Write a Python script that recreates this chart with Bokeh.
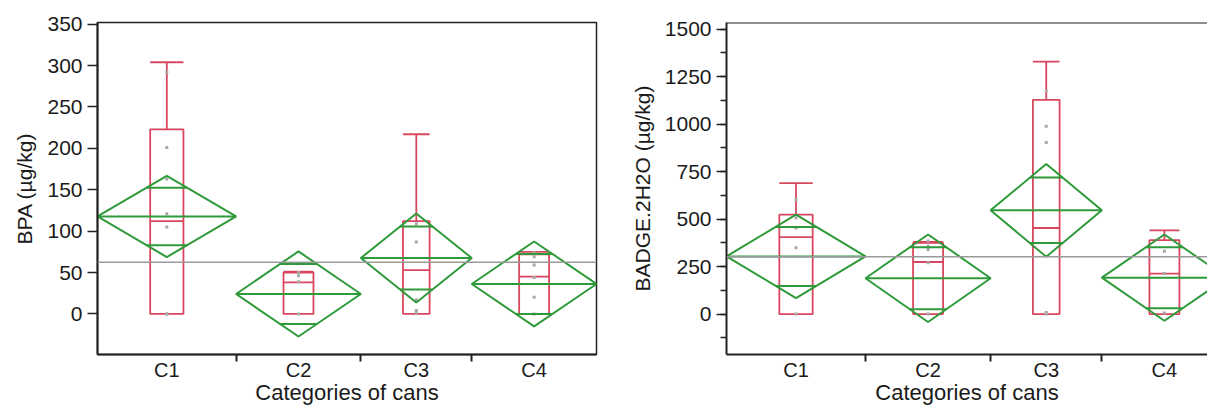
import math
from bokeh.plotting import figure
from bokeh.layouts import row
from bokeh.models import FixedTicker, SingleIntervalTicker, Span, CustomJSTickFormatter, Range1d
from bokeh.embed import file_html
from bokeh.resources import INLINE

# ---------------- data ----------------
categories = ["C1", "C2", "C3", "C4"]
group_sizes = [10, 9, 8, 9]          # x-width of each category (proportional to group size)

bpa_q1 = [0, 0, 0, 0]
bpa_median = [112, 38, 53, 45]
bpa_q3 = [223, 50, 112, 72]
bpa_whisker_lo = [0, 0, 0, 0]
bpa_whisker_hi = [304, 51, 217, 75]
bpa_mean = [117.7, 24.1, 67.5, 36.2]
bpa_ci_hi = [166.7, 75.5, 121.3, 87.5]
bpa_ci_lo = [68.7, -27.3, 13.7, -15.1]
bpa_points = [[292, 201, 163, 121, 105, 0, 0],
              [50, 46, 39, 0],
              [109, 87, 17, 4, 1],
              [74, 69, 59, 44, 20, 0]]
bpa_grand_mean = 62.5

badge_q1 = [0, 0, 0, 0]
badge_median = [405, 274, 453, 213]
badge_q3 = [523, 375, 1128, 389]
badge_whisker_lo = [0, 0, 0, 0]
badge_whisker_hi = [689, 380, 1329, 440]
badge_mean = [303.5, 188.4, 546, 191.6]
badge_ci_hi = [523, 418.7, 790, 418.7]
badge_ci_lo = [84, -41.9, 302, -35.5]
badge_points = [[602, 506, 453, 349, 0],
                [384, 357, 340, 270, 0],
                [1174, 989, 903, 8, 0],
                [331, 213, 5]]
badge_grand_mean = 302

RED = "#d9475f"
GREEN = "#2e9a3a"
GREY = "#9a9a9a"
PT = "#a8a8a8"
TXT = "#1a1a1a"
FONT = "Liberation Sans"

bounds = [0]
for n in group_sizes:
    bounds.append(bounds[-1] + n)
centers = [(bounds[i] + bounds[i + 1]) / 2 for i in range(len(group_sizes))]


def make_panel(ylabel, q1, med, q3, wlo, whi, mean, ci_hi, ci_lo, points, gm,
               y_start, y_end, ticker, x_end, width, bl, br, bt, bb, outline):
    p = figure(width=width, height=408, output_backend="svg", toolbar_location=None,
               x_range=Range1d(0, x_end), y_range=Range1d(y_start, y_end),
               min_border_left=bl, min_border_right=br, min_border_top=bt,
               min_border_bottom=bb)
    p.xgrid.visible = False
    p.ygrid.visible = False
    p.background_fill_color = "white"
    p.border_fill_color = "white"
    if outline:
        p.outline_line_color = "#222222"
        p.outline_line_width = 1.5
    else:
        p.outline_line_color = None
        p.add_layout(Span(location=y_end, dimension="width", line_color="#222222",
                          line_width=2))

    # grand mean
    p.add_layout(Span(location=gm, dimension="width", line_color=GREY, line_width=1.5))

    # box plots
    bw = [0.24 * n for n in group_sizes]
    left = [c - w / 2 for c, w in zip(centers, bw)]
    right = [c + w / 2 for c, w in zip(centers, bw)]
    p.quad(left=left, right=right, bottom=q1, top=q3, fill_color=None,
           line_color=RED, line_width=1.8)
    p.segment(x0=left, y0=med, x1=right, y1=med, line_color=RED, line_width=1.8)
    p.segment(x0=centers, y0=q3, x1=centers, y1=whi, line_color=RED, line_width=1.8)
    p.segment(x0=centers, y0=q1, x1=centers, y1=wlo, line_color=RED, line_width=1.8)
    p.segment(x0=left, y0=whi, x1=right, y1=whi, line_color=RED, line_width=1.8)

    # points
    px, py = [], []
    for c, pts in zip(centers, points):
        for v in pts:
            px.append(c)
            py.append(v)
    p.scatter(px, py, marker="square", size=3, color=PT, line_color=None)

    # means diamonds
    xs, ys = [], []
    for i in range(len(group_sizes)):
        l, r, c, m = bounds[i], bounds[i + 1], centers[i], mean[i]
        xs.append([l, c, r, c])
        ys.append([m, ci_hi[i], m, ci_lo[i]])
    p.patches(xs, ys, fill_color=None, line_color=GREEN, line_width=2)
    p.segment(x0=bounds[:-1], y0=mean, x1=bounds[1:], y1=mean,
              line_color=GREEN, line_width=2)
    f = 1 / math.sqrt(2)
    ox0, ox1, oy = [], [], []
    for i in range(len(group_sizes)):
        hw = (bounds[i + 1] - bounds[i]) / 2
        for lim in (ci_hi[i], ci_lo[i]):
            y = mean[i] + (lim - mean[i]) * f
            w = hw * (1 - f)
            ox0.append(centers[i] - w)
            ox1.append(centers[i] + w)
            oy.append(y)
    p.segment(x0=ox0, y0=oy, x1=ox1, y1=oy, line_color=GREEN, line_width=2)

    # x axis
    xa = p.xaxis[0]
    xa.ticker = FixedTicker(ticks=centers, minor_ticks=bounds[1:-1])
    xa.formatter = CustomJSTickFormatter(args=dict(labels=categories),
                                         code="return labels[index]")
    xa.major_tick_out = 0
    xa.major_tick_in = 0
    xa.minor_tick_out = 7
    xa.minor_tick_in = 0
    xa.minor_tick_line_color = "#222222"
    xa.minor_tick_line_width = 2
    xa.axis_line_color = "#222222"
    xa.axis_line_width = 2
    xa.major_label_standoff = -3
    xa.major_label_text_font = FONT
    xa.major_label_text_font_size = "20px"
    xa.major_label_text_color = TXT
    xa.axis_label = "Categories of cans"
    xa.axis_label_text_font = FONT
    xa.axis_label_text_font_size = "22px"
    xa.axis_label_text_font_style = "normal"
    xa.axis_label_text_color = TXT
    xa.axis_label_standoff = -4

    # y axis
    ya = p.yaxis[0]
    ya.ticker = ticker
    ya.major_tick_out = 10
    ya.major_tick_in = 0
    ya.major_tick_line_width = 1.5
    ya.major_tick_line_color = "#222222"
    ya.minor_tick_out = 6
    ya.minor_tick_in = 0
    ya.minor_tick_line_width = 1.5
    ya.minor_tick_line_color = "#222222"
    ya.axis_line_color = "#222222"
    ya.axis_line_width = 2
    ya.major_label_standoff = 5
    ya.major_label_text_font = FONT
    ya.major_label_text_font_size = "21px"
    ya.major_label_text_color = TXT
    ya.axis_label = ylabel
    ya.axis_label_text_font = FONT
    ya.axis_label_text_font_size = "21px"
    ya.axis_label_text_font_style = "normal"
    ya.axis_label_text_color = TXT
    ya.axis_label_standoff = 8
    return p


p1 = make_panel("BPA (µg/kg)", bpa_q1, bpa_median, bpa_q3, bpa_whisker_lo, bpa_whisker_hi,
                bpa_mean, bpa_ci_hi, bpa_ci_lo, bpa_points, bpa_grand_mean,
                -49, 352, SingleIntervalTicker(interval=50, num_minor_ticks=0),
                bounds[-1], 612, 97, 16, 22, 54, True)

p2 = make_panel("BADGE.2H2O (µg/kg)", badge_q1, badge_median, badge_q3, badge_whisker_lo,
                badge_whisker_hi, badge_mean, badge_ci_hi, badge_ci_lo, badge_points,
                badge_grand_mean, -213, 1535,
                SingleIntervalTicker(interval=250, num_minor_ticks=2),
                34.6, 595, 114, 0, 20, 54, False)

layout = row(p1, p2)
open("out.html", "w").write(file_html(layout, INLINE))
